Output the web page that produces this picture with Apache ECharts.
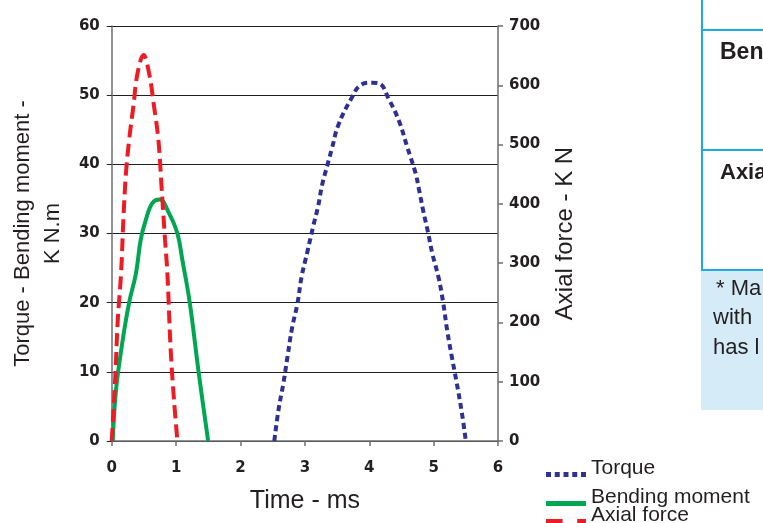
<!DOCTYPE html>
<html>
<head>
<meta charset="utf-8">
<script src="https://cdn.jsdelivr.net/npm/echarts@6/dist/echarts.min.js"></script>
<style>
html,body{margin:0;padding:0;background:#fff;}
#chart{width:763px;height:523px;}
</style>
</head>
<body>
<div id="chart"></div>
<script>
// ---- data ----
var xTicks = [0, 1, 2, 3, 4, 5, 6];
var leftTicks = [0, 10, 20, 30, 40, 50, 60];
var rightTicks = [0, 100, 200, 300, 400, 500, 600, 700];

var torqueT = [2.525, 2.59, 2.665, 2.73, 2.80, 2.885, 2.95, 3.04, 3.128, 3.205, 3.267, 3.35, 3.42, 3.52, 3.72, 3.87, 4.04, 4.155, 4.31, 4.465, 4.59, 4.72, 4.77, 4.84, 4.91, 4.98, 5.08, 5.15, 5.21, 5.28, 5.355, 5.44, 5.50];
var torqueV = [0, 4.5, 8.3, 12.2, 16.3, 19.9, 23.8, 27.4, 31.0, 33.9, 37.0, 39.9, 42.3, 45.7, 49.5, 51.5, 51.8, 51.7, 49.3, 46.2, 42.5, 38.7, 36.5, 33.2, 30.3, 27.1, 23.5, 19.9, 16.0, 12.3, 8.6, 4.0, 0];

var bendingT = [0.015, 0.066, 0.17, 0.27, 0.375, 0.45, 0.53, 0.63, 0.745, 0.89, 1.02, 1.096, 1.21, 1.35, 1.497];
var bendingV = [0, 7.4, 14.6, 20.0, 24.2, 29.1, 32.0, 34.4, 34.9, 32.9, 30.0, 26.2, 20.1, 9.9, 0];

var axialT = [0, 0.057, 0.093, 0.144, 0.18, 0.22, 0.27, 0.335, 0.40, 0.494, 0.58, 0.657, 0.724, 0.776, 0.827, 0.864, 0.915, 0.967, 1.02];
var axialV = [0, 114, 204, 282, 373, 451, 508, 564, 620, 651, 620, 564, 508, 424, 340, 282, 154, 69, 0];

var seriesNames = ['Torque', 'Bending moment', 'Axial force'];
var xName = 'Time - ms';
var leftName = 'Torque - Bending moment -\nK N.m';
var rightName = 'Axial force - K N';

function pairs(t, v) { return t.map(function (x, i) { return [x, v[i]]; }); }

var ink = '#231f20';
var axisGray = '#6d6e71';
var tickFont = { fontFamily: 'DejaVu Sans', fontWeight: 'bold', fontSize: 15, color: ink };
var nameFontFamily = "'Liberation Sans', sans-serif";

// legend icons: invisible points at top/bottom keep the box 40x20, the marks sit low in it
var frame = 'M0,0L0.01,0Z M40,20L39.99,20Z ';
var iconTorque = 'path://' + frame + 'M0,13.5h5v5h-5Z M8.75,13.5h5v5h-5Z M17.5,13.5h5v5h-5Z M26.25,13.5h5v5h-5Z M35,13.5h5v5h-5Z';
var iconBending = 'path://' + frame + 'M0,13.5h40v5h-40Z';
var iconAxial = 'path://' + frame + 'M0,13.5h17v5h-17Z M32,13.5h9v5h-9Z';

var chart = echarts.init(document.getElementById('chart'), null, { renderer: 'canvas' });

function legendFor(name, icon, top) {
  return {
    data: [{ name: name, icon: icon }], left: 546, top: top, orient: 'vertical',
    itemWidth: 40, itemHeight: 20, itemGap: 0, padding: 0, selectedMode: false,
    textStyle: { fontFamily: nameFontFamily, fontSize: 21, color: ink }
  };
}

var option = {
  animation: false,
  backgroundColor: '#ffffff',
  grid: { left: 109, right: 265, top: 26, bottom: 82, containLabel: false },
  xAxis: {
    type: 'value', min: xTicks[0], max: xTicks[xTicks.length - 1], interval: 1,
    name: xName, nameLocation: 'middle', nameGap: 48,
    nameTextStyle: { fontFamily: nameFontFamily, fontSize: 25, color: ink },
    axisLine: { show: true, lineStyle: { color: axisGray, width: 1.5 } },
    axisTick: { show: true, length: 5, lineStyle: { color: axisGray, width: 1.5 } },
    axisLabel: Object.assign({ margin: 20 }, tickFont),
    splitLine: { show: false }
  },
  yAxis: [{
    type: 'value', position: 'left', min: leftTicks[0], max: leftTicks[leftTicks.length - 1], interval: 10,
    name: leftName, nameLocation: 'middle', nameGap: 34, nameRotate: 90,
    nameTextStyle: { fontFamily: nameFontFamily, fontSize: 22, color: ink, lineHeight: 30, align: 'center' },
    axisLine: { show: true, lineStyle: { color: axisGray, width: 1.5 } },
    axisTick: { show: true, length: 5, lineStyle: { color: ink, width: 1 } },
    axisLabel: Object.assign({ margin: 12 }, tickFont),
    splitLine: { show: true, lineStyle: { color: ink, width: 1.2 } }
  }, {
    type: 'value', position: 'right', min: rightTicks[0], max: rightTicks[rightTicks.length - 1], interval: 100,
    name: rightName, nameLocation: 'middle', nameGap: 55, nameRotate: 90,
    nameTextStyle: { fontFamily: nameFontFamily, fontSize: 24, color: ink },
    axisLine: { show: true, lineStyle: { color: axisGray, width: 1.5 } },
    axisTick: { show: true, length: 5, lineStyle: { color: axisGray, width: 1.5 } },
    axisLabel: Object.assign({ margin: 11 }, tickFont),
    splitLine: { show: false }
  }],
  legend: [legendFor(seriesNames[0], iconTorque, 458), legendFor(seriesNames[1], iconBending, 487), legendFor(seriesNames[2], iconAxial, 505)],
  series: [{
    name: seriesNames[0], type: 'line', yAxisIndex: 0, data: pairs(torqueT, torqueV),
    smooth: 0.4, symbol: 'none', color: '#2e3192',
    lineStyle: { color: '#2e3192', width: 4, type: [6, 4] }
  }, {
    name: seriesNames[1], type: 'line', yAxisIndex: 0, data: pairs(bendingT, bendingV),
    smooth: 0.4, symbol: 'none', color: '#00a651',
    lineStyle: { color: '#00a651', width: 4, type: 'solid' }
  }, {
    name: seriesNames[2], type: 'line', yAxisIndex: 1, data: pairs(axialT, axialV),
    smooth: 0.4, symbol: 'none', color: '#ed1c24',
    lineStyle: { color: '#ed1c24', width: 4, type: [13, 6] }
  }],
  graphic: [
    { type: 'rect', shape: { x: 701, y: 270, width: 62, height: 140 }, style: { fill: '#d5ecf8' }, silent: true },
    { type: 'line', shape: { x1: 702, y1: 0, x2: 702, y2: 271 }, style: { stroke: '#1fa9e1', lineWidth: 2 }, silent: true },
    { type: 'line', shape: { x1: 702, y1: 30, x2: 763, y2: 30 }, style: { stroke: '#1fa9e1', lineWidth: 2 }, silent: true },
    { type: 'line', shape: { x1: 702, y1: 150, x2: 763, y2: 150 }, style: { stroke: '#1fa9e1', lineWidth: 2 }, silent: true },
    { type: 'line', shape: { x1: 702, y1: 270, x2: 763, y2: 270 }, style: { stroke: '#1fa9e1', lineWidth: 2 }, silent: true },
    { type: 'text', x: 720, y: 53, style: { text: 'Bend', fontFamily: nameFontFamily, fontWeight: 'bold', fontSize: 23, fill: ink, verticalAlign: 'middle' }, silent: true },
    { type: 'text', x: 720, y: 173, style: { text: 'Axia', fontFamily: nameFontFamily, fontWeight: 'bold', fontSize: 22, fill: ink, verticalAlign: 'middle' }, silent: true },
    { type: 'text', x: 716, y: 289, style: { text: '* Ma', fontFamily: nameFontFamily, fontSize: 22, fill: ink, verticalAlign: 'middle' }, silent: true },
    { type: 'text', x: 713, y: 318, style: { text: 'with', fontFamily: nameFontFamily, fontSize: 22, fill: ink, verticalAlign: 'middle' }, silent: true },
    { type: 'text', x: 713, y: 348, style: { text: 'has l', fontFamily: nameFontFamily, fontSize: 22, fill: ink, verticalAlign: 'middle' }, silent: true }
  ]
};
chart.setOption(option);
</script>
</body>
</html>
